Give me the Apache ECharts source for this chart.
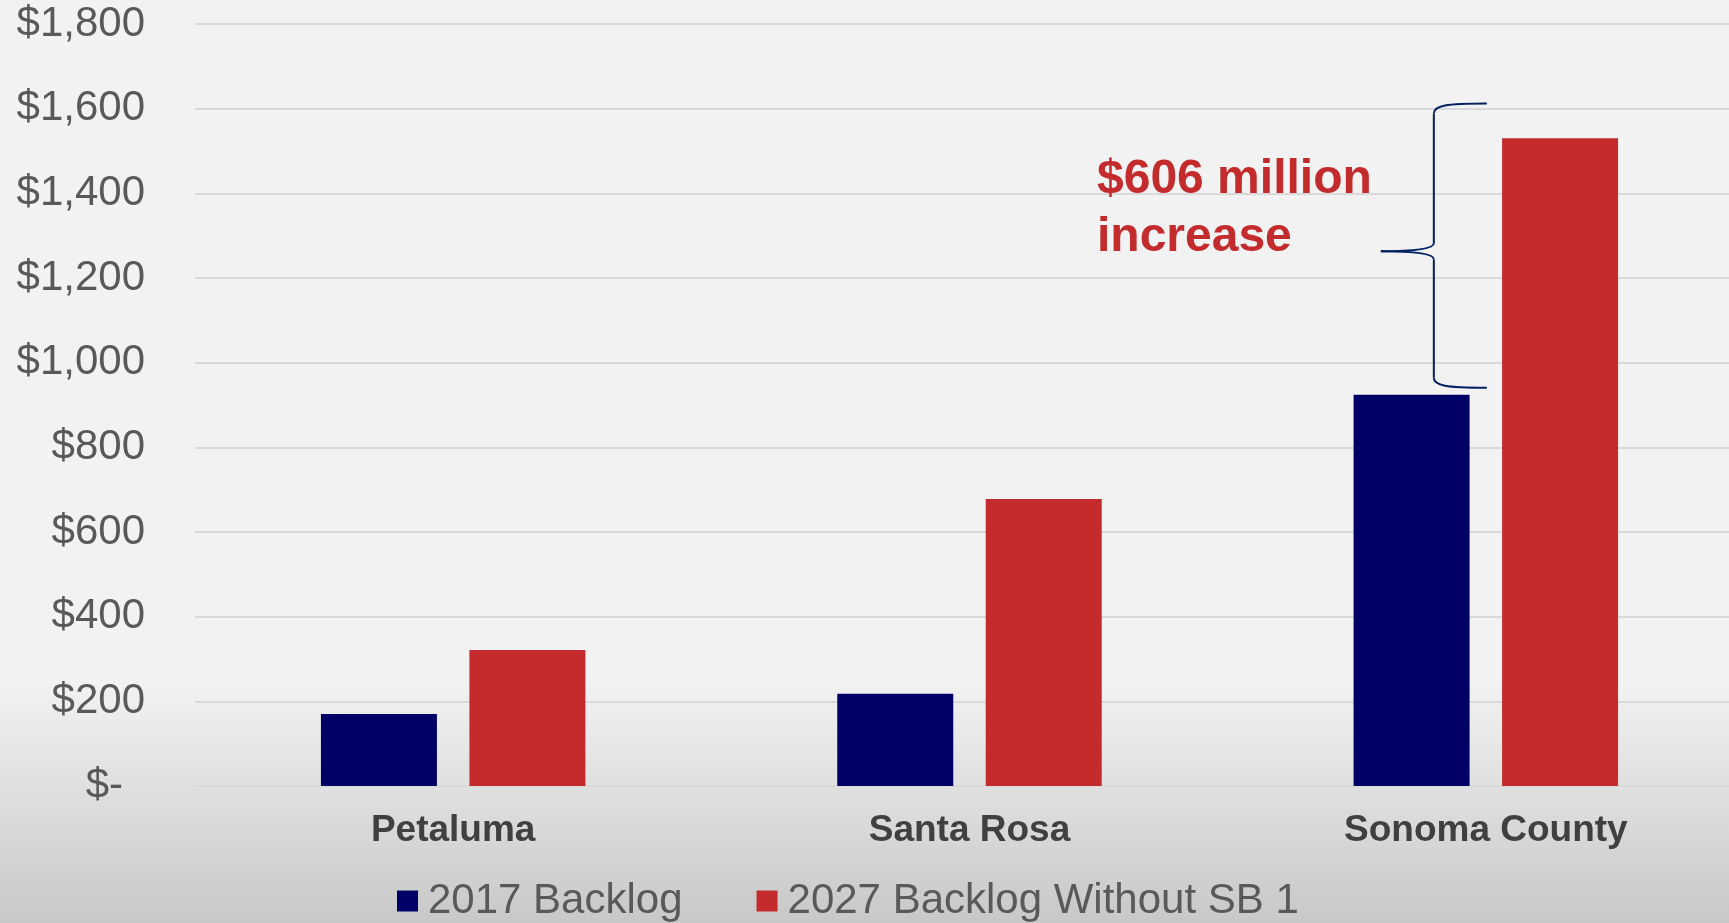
<!DOCTYPE html>
<html>
<head>
<meta charset="utf-8">
<script src="https://cdn.jsdelivr.net/npm/echarts@6/dist/echarts.min.js"></script>
<style>
  html, body { margin: 0; padding: 0; }
  #chart { width: 1729px; height: 923px;
    background: linear-gradient(to bottom, #f2f2f2 0%, #f2f2f2 74%, #c8c8c8 100%); }
</style>
</head>
<body>
<div id="chart"></div>
<script>
// ---- data ----
const categories = ['Petaluma', 'Santa Rosa', 'Sonoma County'];
const seriesNames = ['2017 Backlog', '2027 Backlog Without SB 1'];
const backlog2017 = [170, 218, 924];
const backlog2027 = [321, 678, 1530];
const yTicks = [0, 200, 400, 600, 800, 1000, 1200, 1400, 1600, 1800];
const annotationText = '$606 million\nincrease';
const braceCategory = 'Sonoma County';
const braceRange = [941, 1612];   // value span covered by the brace
const braceTip = 1263;

const FONT = "'Liberation Sans', Arial, sans-serif";
const chart = echarts.init(document.getElementById('chart'), null, { renderer: 'canvas' });

const option = {
  backgroundColor: 'transparent',
  animation: false,
  grid: { left: 195, top: 24, width: 1549, height: 762, containLabel: false, outerBoundsMode: 'none' },
  legend: {
    data: seriesNames,
    left: 397, top: 880,
    padding: 0,
    icon: 'rect',
    itemWidth: 21, itemHeight: 21, itemGap: 74,
    textStyle: { fontFamily: FONT, fontSize: 42, color: '#595959', padding: [0, 0, 0, 5] }
  },
  xAxis: {
    type: 'category',
    data: categories,
    axisLine: { show: true, lineStyle: { color: '#d9d9d9', width: 2 } },
    axisTick: { show: false },
    axisLabel: { fontFamily: FONT, fontSize: 37, fontWeight: 'bold', color: '#404040', margin: 26 }
  },
  yAxis: {
    type: 'value',
    min: yTicks[0], max: yTicks[yTicks.length - 1], interval: 200,
    axisLine: { show: false },
    axisTick: { show: false },
    splitLine: { lineStyle: { color: '#d9d9d9', width: 2 } },
    axisLabel: {
      fontFamily: FONT, fontSize: 42, color: '#595959', margin: 50,
      formatter: v => v === 0 ? '{z|$-}' : '$' + v.toLocaleString('en-US'),
      rich: { z: { fontFamily: FONT, fontSize: 42, color: '#595959', padding: [0, 22, 0, 0] } }
    }
  },
  series: [
    { name: seriesNames[0], type: 'bar', data: backlog2017, barWidth: 116, barGap: '28%',
      itemStyle: { color: '#000066' } },
    { name: seriesNames[1], type: 'bar', data: backlog2027, barWidth: 116,
      itemStyle: { color: '#c32b2d' } }
  ]
};
chart.setOption(option);

// brace + annotation positioned through the axes
const cx = chart.convertToPixel({ xAxisIndex: 0 }, braceCategory);
const yT = chart.convertToPixel({ yAxisIndex: 0 }, braceRange[1]);
const yB = chart.convertToPixel({ yAxisIndex: 0 }, braceRange[0]);
const yM = chart.convertToPixel({ yAxisIndex: 0 }, braceTip);
const vx = cx - 52, tx = cx - 105, ex = cx + 1;
const braceStyle = { stroke: '#002060', lineWidth: 2, fill: null };
const bz = (x1, y1, c1x, c1y, c2x, c2y, x2, y2) => ({
  type: 'bezierCurve', z: 10, silent: true,
  shape: { x1, y1, cpx1: c1x, cpy1: c1y, cpx2: c2x, cpy2: c2y, x2, y2 },
  style: braceStyle
});
const ln = (x1, y1, x2, y2) => ({
  type: 'line', z: 10, silent: true, shape: { x1, y1, x2, y2 }, style: braceStyle
});

chart.setOption({
  graphic: [
    bz(ex, yT, vx + 12, yT, vx, yT + 2, vx, yT + 10),
    ln(vx, yT + 10, vx, yM - 8),
    bz(vx, yM - 8, vx, yM - 2, tx + 30, yM, tx, yM),
    bz(tx, yM, tx + 30, yM, vx, yM + 2, vx, yM + 8),
    ln(vx, yM + 8, vx, yB - 10),
    bz(vx, yB - 10, vx, yB - 2, vx + 12, yB, ex, yB),
    { type: 'text', left: 1097, top: 151, z: 10,
      style: { text: annotationText, fontFamily: FONT, fontSize: 48, fontWeight: 'bold',
               fill: '#c32b2d', lineHeight: 58 } }
  ]
});
</script>
</body>
</html>
